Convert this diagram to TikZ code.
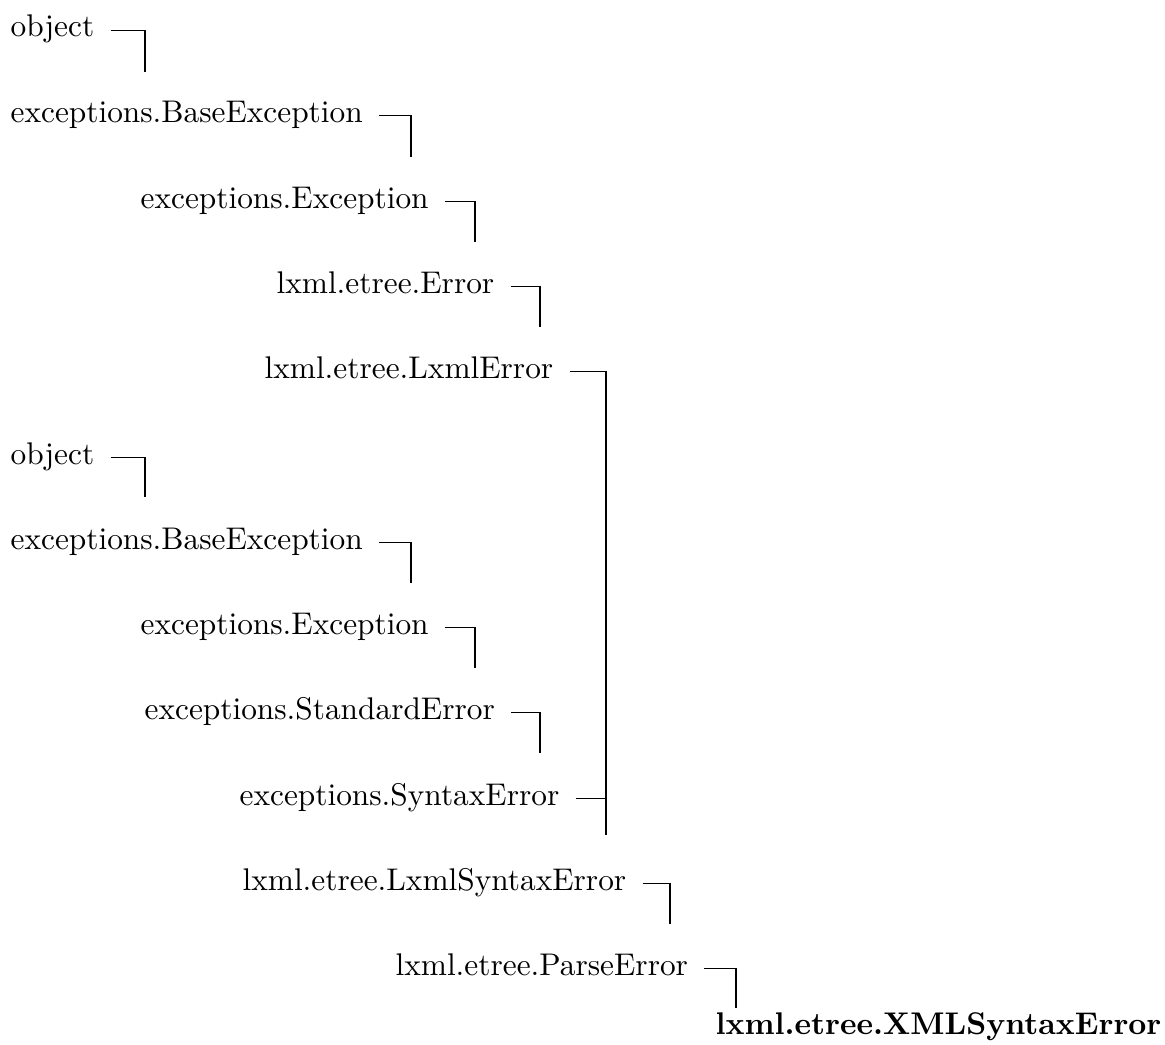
\documentclass[tikz,border=0pt]{standalone}
\begin{document}
\begin{tikzpicture}[x=0.319pt, y=-0.319pt,
    cls/.style={anchor=base west, inner sep=0pt},
    leaf/.style={cls, font=\bfseries},
    link/.style={line width=0.45pt}]
    \useasboundingbox (0,0) rectangle (1165,1045);

    % Klassen, eerste tak
    \node[cls] (obj1) at (10,37) {object};
    \node[cls] (base1) at (10,122) {exceptions.BaseException};
    \node[cls] (exc1) at (140,208) {exceptions.Exception};
    \node[cls] (err) at (276,293) {lxml.etree.Error};
    \node[cls] (lxmlerr) at (264,378) {lxml.etree.LxmlError};

    % Klassen, tweede tak
    \node[cls] (obj2) at (10,464) {object};
    \node[cls] (base2) at (10,549) {exceptions.BaseException};
    \node[cls] (exc2) at (140,634) {exceptions.Exception};
    \node[cls] (stderr) at (144,719) {exceptions.StandardError};
    \node[cls] (synerr) at (239,805) {exceptions.SyntaxError};

    % Gemeenschappelijk deel
    \node[cls] (lxmlsyn) at (242,890) {lxml.etree.LxmlSyntaxError};
    \node[cls] (parse) at (395,975) {lxml.etree.ParseError};
    \node[leaf] (xmlsyn) at (715,1034) {lxml.etree.XMLSyntaxError};

    % Eindpunten van de haken
    \coordinate (obj1-end) at (145,72);
    \coordinate (base1-end) at (411,157);
    \coordinate (exc1-end) at (475,242);
    \coordinate (err-end) at (540,327);
    \coordinate (lxmlerr-end) at (606,835);
    \coordinate (obj2-end) at (145,497);
    \coordinate (base2-end) at (411,583);
    \coordinate (exc2-end) at (475,668);
    \coordinate (stderr-end) at (540,753);
    \coordinate (lxmlsyn-end) at (670,924);
    \coordinate (parse-end) at (736,1008);

    % Haken
    \draw[link] ([xshift=5pt, yshift=2pt]obj1.base east) -| (obj1-end);
    \draw[link] ([xshift=5pt, yshift=2pt]base1.base east) -| (base1-end);
    \draw[link] ([xshift=5pt, yshift=2pt]exc1.base east) -| (exc1-end);
    \draw[link] ([xshift=5pt, yshift=2pt]err.base east) -| (err-end);
    \draw[link] ([xshift=5pt, yshift=2pt]lxmlerr.base east) -| (lxmlerr-end);
    \draw[link] ([xshift=5pt, yshift=2pt]obj2.base east) -| (obj2-end);
    \draw[link] ([xshift=5pt, yshift=2pt]base2.base east) -| (base2-end);
    \draw[link] ([xshift=5pt, yshift=2pt]exc2.base east) -| (exc2-end);
    \draw[link] ([xshift=5pt, yshift=2pt]stderr.base east) -| (stderr-end);
    \draw[link] ([xshift=5pt, yshift=2pt]synerr.base east) -- ([yshift=2pt]synerr.base -| lxmlerr-end);
    \draw[link] ([xshift=5pt, yshift=2pt]lxmlsyn.base east) -| (lxmlsyn-end);
    \draw[link] ([xshift=5pt, yshift=2pt]parse.base east) -| (parse-end);
\end{tikzpicture}
\end{document}
